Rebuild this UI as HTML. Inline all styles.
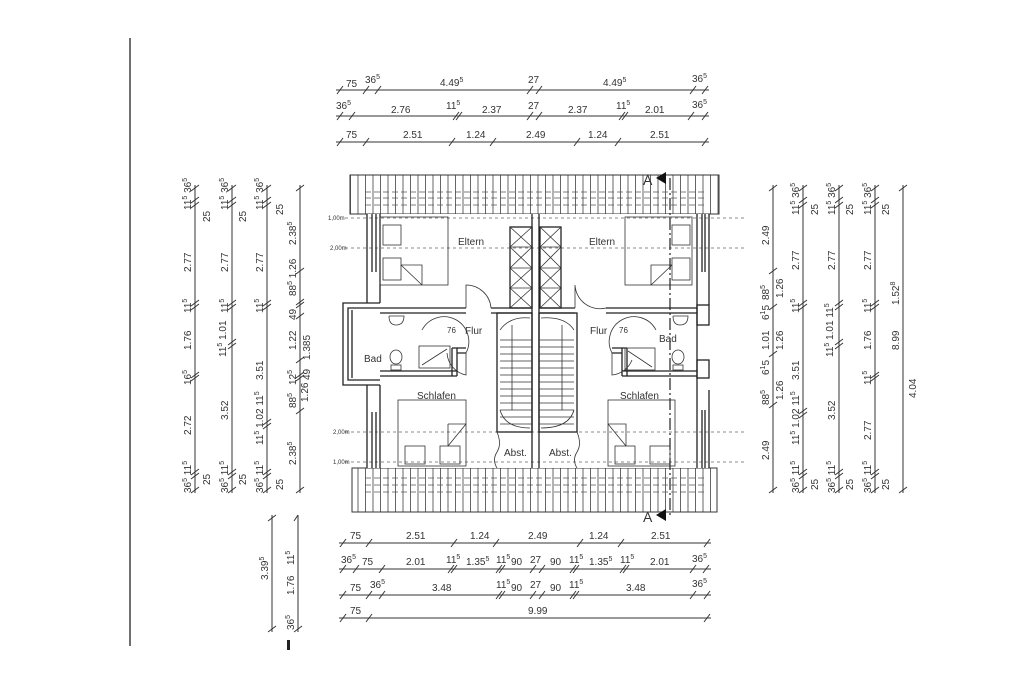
<!DOCTYPE html>
<html><head><meta charset="utf-8"><style>
html,body{margin:0;padding:0;background:#fff;}
svg{display:block;}
text{font-family:"Liberation Sans",sans-serif;font-size:10px;fill:#333;}
.s{font-size:7px;}
</style></head><body>
<svg width="1024" height="683" viewBox="0 0 1024 683" xmlns="http://www.w3.org/2000/svg">
<defs>
<pattern id="rh" x="350" y="0" width="7.5" height="10" patternUnits="userSpaceOnUse"><line x1="0.5" y1="0" x2="0.5" y2="10" stroke="#555" stroke-width="0.9"/></pattern>
</defs>
<rect width="1024" height="683" fill="#fff"/>
<line x1="130" y1="38" x2="130" y2="646" stroke="#222" stroke-width="1.3"/>
<rect x="287" y="640" width="3" height="10" fill="#222"/>

<g stroke="#333" stroke-width="1" fill="none">
<!-- top dimension rows -->
<line x1="336" y1="90" x2="709" y2="90"/><line x1="336" y1="116" x2="709" y2="116"/><line x1="336" y1="142" x2="709" y2="142"/>
<!-- bottom rows -->
<line x1="339" y1="543" x2="711" y2="543"/><line x1="339" y1="569" x2="711" y2="569"/><line x1="339" y1="595" x2="711" y2="595"/><line x1="339" y1="618" x2="711" y2="618"/>
<!-- left verticals -->
<line x1="195" y1="185" x2="195" y2="493"/><line x1="232" y1="185" x2="232" y2="493"/><line x1="267" y1="185" x2="267" y2="493"/><line x1="300" y1="185" x2="300" y2="493"/>
<!-- right verticals -->
<line x1="773" y1="185" x2="773" y2="493"/><line x1="803" y1="185" x2="803" y2="493"/><line x1="839" y1="185" x2="839" y2="493"/><line x1="875" y1="185" x2="875" y2="493"/><line x1="903" y1="185" x2="903" y2="493"/>
<!-- bottom-left verticals -->
<line x1="272" y1="515" x2="272" y2="632"/><line x1="298" y1="515" x2="298" y2="632"/>
</g>

<!-- ticks -->
<g stroke="#333" stroke-width="1">
<path d="M337 94L343 86M363 94L369 86M375 94L381 86M527 94L533 86M536 94L542 86M690 94L696 86M702 94L708 86
M337 120L343 112M349 120L355 112M453 120L459 112M456 120L462 112M527 120L533 112M536 120L542 112M619 120L625 112M622 120L628 112M688 120L694 112M702 120L708 112
M337 146L343 138M363 146L369 138M449 146L455 138M490 146L496 138M574 146L580 138M615 146L621 138M702 146L708 138
M340 547L346 539M366 547L372 539M451 547L457 539M493 547L499 539M577 547L583 539M618 547L624 539M704 547L710 539
M340 573L346 565M353 573L359 565M379 573L385 565M448 573L454 565M451 573L457 565M496 573L502 565M499 573L505 565M530 573L536 565M539 573L545 565M570 573L576 565M573 573L579 565M620 573L626 565M623 573L629 565M690 573L696 565M703 573L709 565
M340 599L346 591M366 599L372 591M379 599L385 591M496 599L502 591M499 599L505 591M530 599L536 591M539 599L545 591M570 599L576 591M573 599L579 591M690 599L696 591M704 599L710 591
M340 622L346 614M366 622L372 614M704 622L710 614"/>
<path d="M191 191L199 185M191 203L199 197M191 208L199 202M191 306L199 300M191 310L199 304M191 378L199 372M191 381L199 375M191 475L199 469M191 479L199 473M191 493L199 487
M228 191L236 185M228 203L236 197M228 208L236 202M228 306L236 300M228 310L236 304M228 345L236 339M228 349L236 343M228 475L236 469M228 479L236 473M228 493L236 487
M263 191L271 185M263 203L271 197M263 208L271 202M263 306L271 300M263 310L271 304M263 425L271 419M263 429L271 423M263 475L271 469M263 479L271 473M263 493L271 487
M296 191L304 185M296 274L304 268M296 305L304 299M296 308L304 302M296 319L304 313M296 363L304 357M296 378L304 372M296 381L304 375M296 414L304 408M296 493L304 487
M769 191L777 185M769 274L777 268M769 310L777 304M769 357L777 351M769 408L777 402M769 493L777 487
M799 191L807 185M799 203L807 197M799 208L807 202M799 306L807 300M799 310L807 304M799 414L807 408M799 418L807 412M799 475L807 469M799 479L807 473M799 493L807 487
M835 191L843 185M835 203L843 197M835 208L843 202M835 306L843 300M835 310L843 304M835 345L843 339M835 349L843 343M835 475L843 469M835 479L843 473M835 493L843 487
M871 191L879 185M871 203L879 197M871 208L879 202M871 306L879 300M871 310L879 304M871 378L879 372M871 381L879 375M871 475L879 469M871 479L879 473M871 493L879 487
M899 191L907 185M899 493L907 487
M268 521L276 515M268 632L276 626M294 521L298 515M294 632L302 626"/>
</g>

<!-- top texts -->
<text x="346" y="87">75</text><text x="365" y="83">36<tspan class="s" dy="-4">5</tspan></text>
<text x="440" y="86">4.49<tspan class="s" dy="-4">5</tspan></text><text x="528" y="83">27</text>
<text x="603" y="86">4.49<tspan class="s" dy="-4">5</tspan></text><text x="692" y="82">36<tspan class="s" dy="-4">5</tspan></text>
<text x="336" y="109">36<tspan class="s" dy="-4">5</tspan></text><text x="391" y="113">2.76</text><text x="446" y="109">11<tspan class="s" dy="-4">5</tspan></text>
<text x="482" y="113">2.37</text><text x="528" y="109">27</text><text x="568" y="113">2.37</text><text x="616" y="109">11<tspan class="s" dy="-4">5</tspan></text>
<text x="645" y="113">2.01</text><text x="692" y="108">36<tspan class="s" dy="-4">5</tspan></text>
<text x="346" y="138">75</text><text x="403" y="138">2.51</text><text x="466" y="138">1.24</text><text x="526" y="138">2.49</text><text x="588" y="138">1.24</text><text x="650" y="138">2.51</text>

<!-- bottom texts -->
<text x="350" y="539">75</text><text x="406" y="539">2.51</text><text x="470" y="539">1.24</text><text x="528" y="539">2.49</text><text x="589" y="539">1.24</text><text x="651" y="539">2.51</text>
<text x="341" y="563">36<tspan class="s" dy="-4">5</tspan></text><text x="362" y="565">75</text><text x="406" y="565">2.01</text><text x="446" y="563">11<tspan class="s" dy="-4">5</tspan></text>
<text x="466" y="565">1.35<tspan class="s" dy="-4">5</tspan></text><text x="496" y="563">11<tspan class="s" dy="-4">5</tspan></text><text x="511" y="565">90</text><text x="530" y="563">27</text><text x="550" y="565">90</text>
<text x="569" y="563">11<tspan class="s" dy="-4">5</tspan></text><text x="589" y="565">1.35<tspan class="s" dy="-4">5</tspan></text><text x="620" y="563">11<tspan class="s" dy="-4">5</tspan></text><text x="650" y="565">2.01</text><text x="692" y="562">36<tspan class="s" dy="-4">5</tspan></text>
<text x="350" y="591">75</text><text x="370" y="588">36<tspan class="s" dy="-4">5</tspan></text><text x="432" y="591">3.48</text><text x="496" y="588">11<tspan class="s" dy="-4">5</tspan></text>
<text x="511" y="591">90</text><text x="530" y="588">27</text><text x="550" y="591">90</text><text x="569" y="588">11<tspan class="s" dy="-4">5</tspan></text><text x="626" y="591">3.48</text><text x="692" y="587">36<tspan class="s" dy="-4">5</tspan></text>
<text x="350" y="614">75</text><text x="528" y="614">9.99</text>

<!-- left vertical texts (rotated) -->
<g font-size="10">
<text transform="translate(191,210) rotate(-90)">11<tspan class="s" dy="-4">5</tspan><tspan dy="4"> 36</tspan><tspan class="s" dy="-4">5</tspan></text>
<text transform="translate(191,272) rotate(-90)">2.77</text>
<text transform="translate(191,313) rotate(-90)">11<tspan class="s" dy="-4">5</tspan></text>
<text transform="translate(191,350) rotate(-90)">1.76</text>
<text transform="translate(191,385) rotate(-90)">16<tspan class="s" dy="-4">5</tspan></text>
<text transform="translate(191,435) rotate(-90)">2.72</text>
<text transform="translate(191,493) rotate(-90)">36<tspan class="s" dy="-4">5</tspan><tspan dy="4"> 11</tspan><tspan class="s" dy="-4">5</tspan></text>
<text transform="translate(210,222) rotate(-90)">25</text><text transform="translate(210,485) rotate(-90)">25</text>
<text transform="translate(228,210) rotate(-90)">11<tspan class="s" dy="-4">5</tspan><tspan dy="4"> 36</tspan><tspan class="s" dy="-4">5</tspan></text>
<text transform="translate(228,272) rotate(-90)">2.77</text>
<text transform="translate(228,313) rotate(-90)">11<tspan class="s" dy="-4">5</tspan></text>
<text transform="translate(226,357) rotate(-90)">11<tspan class="s" dy="-4">5</tspan><tspan dy="4"> 1.01</tspan></text>
<text transform="translate(228,420) rotate(-90)">3.52</text>
<text transform="translate(228,493) rotate(-90)">36<tspan class="s" dy="-4">5</tspan><tspan dy="4"> 11</tspan><tspan class="s" dy="-4">5</tspan></text>
<text transform="translate(246,222) rotate(-90)">25</text><text transform="translate(246,485) rotate(-90)">25</text>
<text transform="translate(263,210) rotate(-90)">11<tspan class="s" dy="-4">5</tspan><tspan dy="4"> 36</tspan><tspan class="s" dy="-4">5</tspan></text>
<text transform="translate(263,272) rotate(-90)">2.77</text>
<text transform="translate(263,313) rotate(-90)">11<tspan class="s" dy="-4">5</tspan></text>
<text transform="translate(263,380) rotate(-90)">3.51</text>
<text transform="translate(263,445) rotate(-90)">11<tspan class="s" dy="-4">5</tspan><tspan dy="4"> 1.02 11</tspan><tspan class="s" dy="-4">5</tspan></text>
<text transform="translate(263,493) rotate(-90)">36<tspan class="s" dy="-4">5</tspan><tspan dy="4"> 11</tspan><tspan class="s" dy="-4">5</tspan></text>
<text transform="translate(283,215) rotate(-90)">25</text><text transform="translate(283,490) rotate(-90)">25</text>
<text transform="translate(296,245) rotate(-90)">2.38<tspan class="s" dy="-4">5</tspan></text>
<text transform="translate(296,296) rotate(-90)">88<tspan class="s" dy="-4">5</tspan><tspan dy="4"> 1.26</tspan></text>
<text transform="translate(296,320) rotate(-90)">49</text>
<text transform="translate(296,350) rotate(-90)">1.22</text>
<text transform="translate(310,360) rotate(-90)">1.385</text>
<text transform="translate(296,385) rotate(-90)">12<tspan class="s" dy="-4">5</tspan></text>
<text transform="translate(310,380) rotate(-90)">49</text>
<text transform="translate(296,408) rotate(-90)">88<tspan class="s" dy="-4">5</tspan></text>
<text transform="translate(308,402) rotate(-90)">1.26</text>
<text transform="translate(296,465) rotate(-90)">2.38<tspan class="s" dy="-4">5</tspan></text>
<!-- right -->
<text transform="translate(769,245) rotate(-90)">2.49</text>
<text transform="translate(769,300) rotate(-90)">88<tspan class="s" dy="-4">5</tspan></text>
<text transform="translate(783,298) rotate(-90)">1.26</text>
<text transform="translate(769,320) rotate(-90)">6<tspan class="s" dy="-4">1</tspan><tspan dy="4">5</tspan></text>
<text transform="translate(769,350) rotate(-90)">1.01</text>
<text transform="translate(783,350) rotate(-90)">1.26</text>
<text transform="translate(769,375) rotate(-90)">6<tspan class="s" dy="-4">1</tspan><tspan dy="4">5</tspan></text>
<text transform="translate(769,405) rotate(-90)">88<tspan class="s" dy="-4">5</tspan></text>
<text transform="translate(783,400) rotate(-90)">1.26</text>
<text transform="translate(769,460) rotate(-90)">2.49</text>
<text transform="translate(799,215) rotate(-90)">11<tspan class="s" dy="-4">5</tspan><tspan dy="4"> 36</tspan><tspan class="s" dy="-4">5</tspan></text>
<text transform="translate(799,270) rotate(-90)">2.77</text>
<text transform="translate(799,313) rotate(-90)">11<tspan class="s" dy="-4">5</tspan></text>
<text transform="translate(799,380) rotate(-90)">3.51</text>
<text transform="translate(799,445) rotate(-90)">11<tspan class="s" dy="-4">5</tspan><tspan dy="4"> 1.02 11</tspan><tspan class="s" dy="-4">5</tspan></text>
<text transform="translate(799,493) rotate(-90)">36<tspan class="s" dy="-4">5</tspan><tspan dy="4"> 11</tspan><tspan class="s" dy="-4">5</tspan></text>
<text transform="translate(818,215) rotate(-90)">25</text><text transform="translate(818,490) rotate(-90)">25</text>
<text transform="translate(835,215) rotate(-90)">11<tspan class="s" dy="-4">5</tspan><tspan dy="4"> 36</tspan><tspan class="s" dy="-4">5</tspan></text>
<text transform="translate(835,270) rotate(-90)">2.77</text>
<text transform="translate(833,357) rotate(-90)">11<tspan class="s" dy="-4">5</tspan><tspan dy="4"> 1.01 11</tspan><tspan class="s" dy="-4">5</tspan></text>
<text transform="translate(835,420) rotate(-90)">3.52</text>
<text transform="translate(835,493) rotate(-90)">36<tspan class="s" dy="-4">5</tspan><tspan dy="4"> 11</tspan><tspan class="s" dy="-4">5</tspan></text>
<text transform="translate(853,215) rotate(-90)">25</text><text transform="translate(853,490) rotate(-90)">25</text>
<text transform="translate(871,215) rotate(-90)">11<tspan class="s" dy="-4">5</tspan><tspan dy="4"> 36</tspan><tspan class="s" dy="-4">5</tspan></text>
<text transform="translate(871,270) rotate(-90)">2.77</text>
<text transform="translate(871,313) rotate(-90)">11<tspan class="s" dy="-4">5</tspan></text>
<text transform="translate(871,350) rotate(-90)">1.76</text>
<text transform="translate(871,385) rotate(-90)">11<tspan class="s" dy="-4">5</tspan></text>
<text transform="translate(871,440) rotate(-90)">2.77</text>
<text transform="translate(871,493) rotate(-90)">36<tspan class="s" dy="-4">5</tspan><tspan dy="4"> 11</tspan><tspan class="s" dy="-4">5</tspan></text>
<text transform="translate(889,215) rotate(-90)">25</text><text transform="translate(889,490) rotate(-90)">25</text>
<text transform="translate(899,305) rotate(-90)">1.52<tspan class="s" dy="-4">8</tspan></text>
<text transform="translate(899,350) rotate(-90)">8.99</text>
<text transform="translate(916,398) rotate(-90)">4.04</text>
<!-- bottom-left -->
<text transform="translate(268,580) rotate(-90)">3.39<tspan class="s" dy="-4">5</tspan></text>
<text transform="translate(294,565) rotate(-90)">11<tspan class="s" dy="-4">5</tspan></text>
<text transform="translate(294,595) rotate(-90)">1.76</text>
<text transform="translate(294,630) rotate(-90)">36<tspan class="s" dy="-4">5</tspan></text>
</g>

<!-- PLAN -->
<!-- roofs -->
<rect x="350" y="175" width="369" height="39" fill="url(#rh)" stroke="#333"/>
<rect x="352" y="468" width="365" height="44" fill="url(#rh)" stroke="#333"/>
<g stroke="#555" stroke-width="0.8" stroke-dasharray="6,3" fill="none">
<line x1="365" y1="192" x2="705" y2="192"/><line x1="365" y1="198" x2="705" y2="198"/><line x1="365" y1="205" x2="705" y2="205"/>
<line x1="365" y1="478" x2="705" y2="478"/><line x1="365" y1="485" x2="705" y2="485"/><line x1="365" y1="492" x2="705" y2="492"/>
</g>
<!-- interior white -->
<rect x="367" y="214" width="342" height="254" fill="#fff"/>
<!-- level lines -->
<g stroke="#666" stroke-width="0.8" stroke-dasharray="3,3">
<line x1="345" y1="218" x2="745" y2="218"/><line x1="345" y1="248" x2="745" y2="248"/>
<line x1="345" y1="432" x2="745" y2="432"/><line x1="345" y1="462" x2="745" y2="462"/>
</g>
<text x="328" y="220" style="font-size:6px">1,00m</text><text x="330" y="250" style="font-size:6px">2,00m</text>
<text x="333" y="434" style="font-size:6px">2,00m</text><text x="333" y="464" style="font-size:6px">1,00m</text>

<g stroke="#222" stroke-width="1.3" fill="none">
<!-- exterior walls left -->
<path d="M367 214V303M380 214V303M372 214V272M376 214V272"/>
<path d="M367 385V468M380 385V468M372 412V468M376 412V468"/>
<!-- bump-out left -->
<path d="M380 303H343V385H380M380 308H348V380H380M352 310V378"/>
<!-- right exterior -->
<path d="M697 214V468M709 214V305M709 390V468M702 214V272M705 214V272M702 410V468M705 410V468"/>
<rect x="697" y="305" width="12" height="20"/><rect x="697" y="360" width="12" height="18"/>
<!-- center wall -->
<path d="M532 214V468M539 214V468"/>
<!-- interior walls left -->
<path d="M380 308H466M380 313H466M491 308H532M491 313H532"/>
<path d="M380 371H457M380 376H457M452 348V376M457 348V376M452 348H466M457 353H466"/>
<!-- interior walls right -->
<path d="M539 308H575M539 313H575M606 308H697M606 313H697"/>
<path d="M622 371H697M622 376H697M622 348V376M627 348V376M612 348H627M612 353H622"/>
<!-- stairs -->
<rect x="497" y="313" width="35" height="119"/>
<rect x="539" y="313" width="38" height="119"/>
<!-- voids -->
<rect x="510" y="227" width="22" height="81"/><rect x="540" y="227" width="21" height="81"/>
</g>
<g stroke="#333" stroke-width="0.8" fill="none">
<path d="M510 247H532M510 268H532M510 288H532M510 227L532 247M532 227L510 247M510 247L532 268M532 247L510 268M510 268L532 288M532 268L510 288M510 288L532 308M532 288L510 308"/>
<path d="M540 247H561M540 268H561M540 288H561M540 227L561 247M561 227L540 247M540 247L561 268M561 247L540 268M540 268L561 288M561 268L540 288M540 288L561 308M561 288L540 308"/>
<path d="M500 340H532M500 347H532M500 354H532M500 361H532M500 368H532M500 375H532M500 382H532M500 389H532M500 396H532M500 403H532M500 410H532M500 417H532M500 424H532M500 330Q510 316 530 318M500 410Q505 428 530 428M512 325V410"/>
<path d="M539 340H574M539 347H574M539 354H574M539 361H574M539 368H574M539 375H574M539 382H574M539 389H574M539 396H574M539 403H574M539 410H574M539 417H574M539 424H574M574 330Q565 316 541 318M574 410Q569 428 541 428M562 325V410"/>
<!-- door arcs -->
<path d="M466 308V285A25 25 0 0 1 491 308"/>
<path d="M575 308V285A25 25 0 0 0 606 308"/>
<path d="M466 353V375A24 24 0 0 1 447 353" />
<path d="M466 353A24 24 0 0 0 422 330"/>
<path d="M612 353A24 24 0 0 1 656 330"/>
<path d="M612 353V375A24 24 0 0 0 632 360"/>
<path d="M497 432Q502 444 497 452Q492 460 497 468"/>
<path d="M577 432Q582 444 577 452Q572 460 577 468"/>
<!-- beds -->
<rect x="380" y="217" width="68" height="68"/><rect x="383" y="225" width="18" height="20"/><rect x="383" y="258" width="18" height="22"/><path d="M401 265H422V285M401 265L422 285"/>
<rect x="625" y="217" width="67" height="68"/><rect x="672" y="225" width="18" height="20"/><rect x="672" y="258" width="18" height="22"/><path d="M672 265H651V285M672 265L651 285"/>
<rect x="398" y="400" width="68" height="66"/><rect x="405" y="446" width="20" height="18"/><rect x="440" y="446" width="20" height="18"/><path d="M448 424H466M448 424V446M448 446L466 424"/>
<rect x="608" y="400" width="67" height="66"/><rect x="615" y="446" width="20" height="18"/><rect x="650" y="446" width="20" height="18"/><path d="M608 424H626V446M608 424L626 446"/>
<!-- bathroom fixtures -->
<rect x="419" y="346" width="31" height="22"/><path d="M422 365L447 349"/>
<rect x="625" y="348" width="30" height="22"/><path d="M628 351L652 367"/>
<ellipse cx="396" cy="357" rx="6" ry="7"/><rect x="391" y="365" width="10" height="5"/>
<ellipse cx="678" cy="357" rx="6" ry="7"/><rect x="673" y="365" width="10" height="5"/>
<path d="M389 316H404Q404 325 396 325Q389 325 389 316"/>
<path d="M673 316H688Q688 325 680 325Q673 325 673 316"/>
</g>
<!-- section line -->
<line x1="670" y1="178" x2="670" y2="515" stroke="#222" stroke-width="1.2" stroke-dasharray="12,3,2,3"/>
<text x="643" y="185" style="font-size:14px">A</text><path d="M656 178L666 172V184Z" fill="#111"/>
<text x="643" y="522" style="font-size:14px">A</text><path d="M656 515L666 509V521Z" fill="#111"/>

<!-- room labels -->
<text x="458" y="245">Eltern</text><text x="589" y="245">Eltern</text>
<text x="465" y="334">Flur</text><text x="590" y="334">Flur</text>
<text x="447" y="333" style="font-size:8px">76</text><text x="619" y="333" style="font-size:8px">76</text>
<text x="364" y="362">Bad</text><text x="659" y="342">Bad</text>
<text x="417" y="399">Schlafen</text><text x="620" y="399">Schlafen</text>
<text x="504" y="456">Abst.</text><text x="549" y="456">Abst.</text>
</svg>
</body></html>
